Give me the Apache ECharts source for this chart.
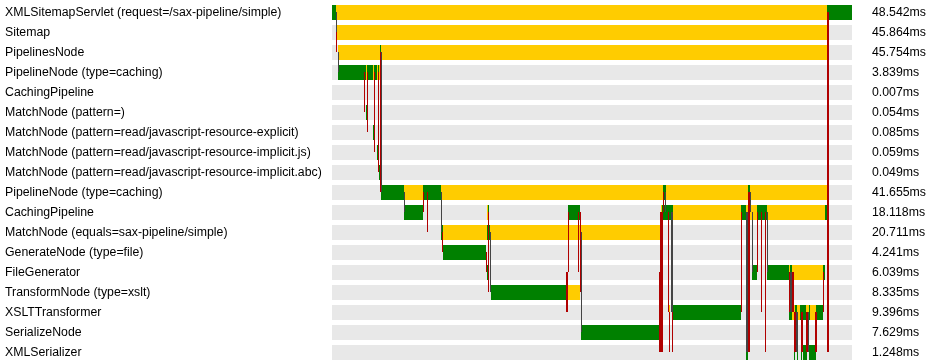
<!DOCTYPE html>
<html><head><meta charset="utf-8">
<script src="https://cdn.jsdelivr.net/npm/echarts@6/dist/echarts.min.js"></script>
<style>html,body{margin:0;padding:0;background:#fff}#c{width:935px;height:363px}</style>
</head><body><div id="c"></div>
<script>
// Row names (top to bottom)
const rowLabels = [
  'XMLSitemapServlet (request=/sax-pipeline/simple)',
  'Sitemap',
  'PipelinesNode',
  'PipelineNode (type=caching)',
  'CachingPipeline',
  'MatchNode (pattern=)',
  'MatchNode (pattern=read/javascript-resource-explicit)',
  'MatchNode (pattern=read/javascript-resource-implicit.js)',
  'MatchNode (pattern=read/javascript-resource-implicit.abc)',
  'PipelineNode (type=caching)',
  'CachingPipeline',
  'MatchNode (equals=sax-pipeline/simple)',
  'GenerateNode (type=file)',
  'FileGenerator',
  'TransformNode (type=xslt)',
  'XSLTTransformer',
  'SerializeNode',
  'XMLSerializer'
];
// Total time per row (ms), shown on the right
const totalTimes = [48.542, 45.864, 45.754, 3.839, 0.007, 0.054, 0.085, 0.059, 0.049,
  41.655, 18.118, 20.711, 4.241, 6.039, 8.335, 9.396, 7.629, 1.248];
const timelineMs = 48.542;

// Time segments: [row, startMs, endMs, kind]  kind 0 = green, 1 = yellow
const segments = [
  [0, 0, 0.374, 0], [0, 0.374, 46.253, 1], [0, 46.253, 48.542, 0],
  [1, 0.439, 46.30, 1],
  [2, 0.561, 46.30, 1], [2, 4.485, 4.58, 0],
  [3, 0.561, 4.50, 0], [3, 3.177, 3.27, 1], [3, 3.831, 3.924, 1], [3, 4.205, 4.298, 1], [3, 4.392, 4.485, 1],
  [5, 3.177, 3.27, 0],
  [6, 3.831, 3.924, 0],
  [7, 4.205, 4.298, 0],
  [8, 4.392, 4.485, 0],
  [9, 4.579, 6.728, 0], [9, 6.728, 8.503, 1], [9, 8.503, 10.185, 0], [9, 10.185, 30.929, 1],
  [9, 30.929, 31.209, 0], [9, 31.209, 38.871, 1], [9, 38.871, 39.058, 0], [9, 39.058, 46.253, 1],
  [10, 6.728, 8.503, 0], [10, 14.483, 14.577, 1], [10, 14.577, 14.67, 0], [10, 22.052, 23.173, 0],
  [10, 30.742, 30.83, 1], [10, 30.83, 31.863, 0], [10, 31.863, 38.217, 1], [10, 38.217, 38.684, 0],
  [10, 38.684, 39.712, 1], [10, 39.712, 40.647, 0], [10, 40.647, 46.066, 1], [10, 46.066, 46.253, 0],
  [11, 10.185, 10.372, 0], [11, 10.372, 14.483, 1], [11, 14.483, 14.764, 0], [11, 14.764, 30.742, 1],
  [12, 10.372, 14.39, 0],
  [13, 14.50, 14.59, 0], [13, 39.245, 39.712, 0], [13, 40.647, 42.702, 0], [13, 42.702, 42.796, 1],
  [13, 42.796, 42.983, 0], [13, 42.983, 45.879, 1], [13, 45.879, 46.066, 0],
  [14, 14.857, 21.958, 0], [14, 21.958, 23.173, 1],
  [15, 31.489, 31.58, 1], [15, 31.863, 38.217, 0], [15, 42.702, 42.983, 0], [15, 42.983, 43.263, 1],
  [15, 43.263, 43.45, 0], [15, 43.45, 43.73, 1], [15, 43.73, 44.29, 0], [15, 44.29, 44.57, 1],
  [15, 44.57, 44.67, 0], [15, 44.67, 45.225, 1], [15, 45.225, 45.879, 0],
  [16, 23.267, 30.649, 0], [16, 30.83, 30.92, 1],
  [17, 38.684, 38.87, 0], [17, 43.17, 43.26, 0], [17, 43.45, 43.54, 0], [17, 43.82, 43.91, 0],
  [17, 44.01, 44.384, 0], [17, 44.571, 45.225, 0]
];

// Call links: [ms, fromRow, toRow, kind, widthPx]  kind 0 = dark grey, 1 = red
const links = [
  [0.374, 0, 1, 0, 1], [0.467, 1, 2, 1, 1], [0.561, 2, 3, 0, 1],
  [3.04, 3, 5, 1, 1], [3.32, 3, 6, 1, 1], [3.97, 3, 7, 1, 1], [4.35, 3, 8, 1, 1],
  [4.53, 2, 9, 1, 1], [4.63, 2, 9, 0, 1],
  [6.775, 9, 10, 0, 1], [8.55, 9, 10, 1, 1], [8.924, 9, 11, 1, 1], [10.23, 9, 11, 0, 1],
  [10.325, 11, 12, 1, 1], [14.44, 12, 13, 1, 1], [14.62, 10, 14, 1, 1], [14.81, 11, 14, 0, 1],
  [22.0, 13, 15, 1, 2], [22.1, 10, 13, 1, 1], [23.03, 10, 13, 1, 1], [23.22, 10, 14, 1, 1], [23.31, 11, 16, 0, 1],
  [30.63, 13, 17, 1, 2], [30.79, 10, 17, 1, 3], [30.93, 9, 10, 1, 1], [31.16, 9, 10, 0, 1],
  [31.44, 10, 15, 1, 1], [31.54, 15, 17, 1, 1], [31.77, 10, 15, 0, 2], [31.82, 15, 17, 1, 1],
  [38.26, 10, 15, 1, 1], [38.74, 10, 17, 0, 2], [38.92, 9, 17, 1, 2], [39.11, 9, 10, 0, 1],
  [39.25, 10, 13, 0, 1], [39.76, 10, 13, 1, 1], [40.09, 10, 15, 1, 1], [40.55, 10, 17, 1, 1], [40.69, 10, 13, 0, 1],
  [42.75, 13, 15, 1, 1], [42.88, 13, 15, 0, 2], [43.08, 13, 15, 1, 2], [45.88, 13, 15, 1, 1],
  [43.26, 15, 17, 1, 2], [43.45, 15, 17, 0, 2], [43.92, 15, 17, 1, 2], [44.38, 15, 17, 1, 2],
  [44.52, 15, 17, 0, 1], [45.23, 15, 17, 1, 2],
  [46.30, 0, 17, 1, 2]
];

const SEG_COLORS = ['#008000', '#ffcc00'];
const LINK_COLORS = ['#444444', '#b00000'];
const BAR_H = 15;

const chart = echarts.init(document.getElementById('c'), null, {renderer: 'canvas'});
const fontFamily = '"Liberation Sans", Arial, sans-serif';

function rectBar(api, row, s, e, fill) {
  const p1 = api.coord([s, row]);
  const p2 = api.coord([e, row]);
  let x1 = Math.round(p1[0]);
  let x2 = Math.round(p2[0]);
  if (x2 - x1 < 1) x2 = x1 + 1;
  return {type: 'rect', shape: {x: x1, y: Math.round(p1[1] - BAR_H / 2), width: x2 - x1, height: BAR_H}, style: {fill: fill}};
}

chart.setOption({
  animation: false,
  grid: {left: 332, top: 2.5, width: 519.5, height: 360},
  xAxis: {type: 'value', min: 0, max: timelineMs, show: false},
  yAxis: [
    {
      type: 'category', data: rowLabels, inverse: true, position: 'left',
      axisLine: {show: false}, axisTick: {show: false}, splitLine: {show: false},
      axisLabel: {align: 'left', margin: 327, color: '#000', fontSize: 12.3, fontFamily: fontFamily, padding: [0, 0, 2, 0]}
    },
    {
      type: 'category', data: totalTimes.map(v => v.toFixed(3) + 'ms'), inverse: true, position: 'right',
      axisLine: {show: false}, axisTick: {show: false}, splitLine: {show: false},
      axisLabel: {align: 'left', margin: 20.5, color: '#000', fontSize: 12.3, fontFamily: fontFamily, padding: [0, 0, 2, 0]}
    }
  ],
  series: [
    {
      type: 'custom', silent: true,
      data: rowLabels.map((_, i) => [0, i]),
      encode: {x: 0, y: 1},
      renderItem: function (params, api) {
        return rectBar(api, params.dataIndex, 0, timelineMs, '#e8e8e8');
      }
    },
    {
      type: 'custom', silent: true,
      data: segments.map(s => [s[1], s[0]]),
      encode: {x: 0, y: 1},
      renderItem: function (params, api) {
        const s = segments[params.dataIndex];
        return rectBar(api, s[0], s[1], s[2], SEG_COLORS[s[3]]);
      }
    },
    {
      type: 'custom', silent: true,
      data: links.map(l => [l[0], l[1]]),
      encode: {x: 0, y: 1},
      renderItem: function (params, api) {
        const l = links[params.dataIndex];
        const a = api.coord([l[0], l[1]]);
        const b = api.coord([l[0], l[2]]);
        const w = l[4];
        const x = Math.round(a[0] - w / 2);
        const y1 = Math.floor(a[1]);
        const y2 = Math.floor(b[1]);
        return {type: 'rect', shape: {x: x, y: y1, width: w, height: y2 - y1}, style: {fill: LINK_COLORS[l[3]]}};
      }
    }
  ]
});
</script>
</body></html>
